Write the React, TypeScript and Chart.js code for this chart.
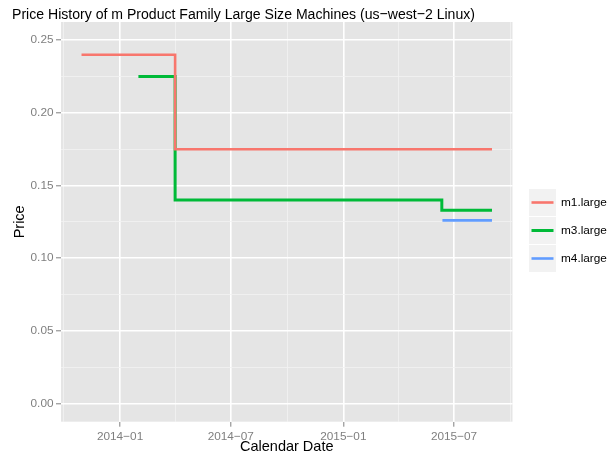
import React, { useEffect, useRef } from 'react';
import { Chart, registerables } from 'chart.js';

Chart.register(...registerables);

const titleText = 'Price History of m Product Family Large Size Machines (us\u2212west\u22122 Linux)';
const xTitle = 'Calendar Date';
const yTitle = 'Price';

const seriesNames = ['m1.large', 'm3.large', 'm4.large'];
const seriesColors = ['#F8766D', '#00BA38', '#619CFF'];

const m1Dates = ['2013-10-30', '2014-04-01', '2015-09-01'];
const m1Prices = [0.24, 0.175, 0.175];
const m3Dates = ['2014-01-31', '2014-04-01', '2015-06-11', '2015-09-01'];
const m3Prices = [0.225, 0.14, 0.133, 0.133];
const m4Dates = ['2015-06-12', '2015-09-01'];
const m4Prices = [0.126, 0.126];

const xTickDates = ['2014-01-01', '2014-07-01', '2015-01-01', '2015-07-01'];
const xTickLabels = ['2014\u221201', '2014\u221207', '2015\u221201', '2015\u221207'];
const xMinorDates = ['2013-10-01', '2014-04-01', '2014-10-01', '2015-04-01', '2015-10-01'];
const yTicks = [0, 0.05, 0.1, 0.15, 0.2, 0.25];
const yTickLabels = ['0.00', '0.05', '0.10', '0.15', '0.20', '0.25'];
const yMinor = [0.025, 0.075, 0.125, 0.175, 0.225];

const FONT = '"Liberation Sans", Arial, Helvetica, sans-serif';

function toDay(s: string): number {
  const [y, m, d] = s.split('-').map(Number);
  return (Date.UTC(y, m - 1, d) - Date.UTC(2014, 0, 1)) / 86400000;
}

const xMajorVals = xTickDates.map(toDay);
const xMinorVals = xMinorDates.map(toDay);

export default function App() {
  const ref = useRef<HTMLCanvasElement | null>(null);

  useEffect(() => {
    document.body.style.margin = '0';
    const canvas = ref.current;
    if (!canvas) return;

    const allDates = [...m1Dates, ...m3Dates, ...m4Dates].map(toDay);
    const dMin = Math.min(...allDates);
    const dMax = Math.max(...allDates);
    const ex = (dMax - dMin) * 0.05;
    const yMinV = 0;
    const yMaxV = 0.25;
    const ey = (yMaxV - yMinV) * 0.05;

    const mk = (dates: string[], prices: number[]) =>
      dates.map((d, i) => ({ x: toDay(d), y: prices[i] }));

    const datasets = [
      { label: seriesNames[0], data: mk(m1Dates, m1Prices), borderColor: seriesColors[0], borderWidth: 2.6 },
      { label: seriesNames[1], data: mk(m3Dates, m3Prices), borderColor: seriesColors[1], borderWidth: 3 },
      { label: seriesNames[2], data: mk(m4Dates, m4Prices), borderColor: seriesColors[2], borderWidth: 2.6 },
    ].map((d) => ({
      ...d,
      stepped: 'before' as const,
      pointRadius: 0,
      fill: false,
      tension: 0,
      borderCapStyle: 'butt' as const,
      borderJoinStyle: 'miter' as const,
    }));

    const decor = {
      id: 'decor',
      beforeDraw(chart: any) {
        const { ctx, chartArea } = chart;
        ctx.save();
        ctx.fillStyle = '#FFFFFF';
        ctx.fillRect(0, 0, chart.width, chart.height);
        ctx.fillStyle = '#E5E5E5';
        ctx.fillRect(chartArea.left, chartArea.top, chartArea.right - chartArea.left, chartArea.bottom - chartArea.top);
        ctx.restore();
      },
      afterDraw(chart: any) {
        const { ctx, chartArea } = chart;
        ctx.save();
        // title
        ctx.fillStyle = '#000000';
        ctx.font = `15.5px ${FONT}`;
        ctx.textAlign = 'left';
        ctx.textBaseline = 'alphabetic';
        const tw = ctx.measureText(titleText).width;
        const sx = 463 / tw;
        ctx.save();
        ctx.translate(12, 18.5);
        ctx.scale(sx, 1);
        ctx.fillText(titleText, 0, 0);
        ctx.restore();
        // axis titles
        ctx.font = `14.5px ${FONT}`;
        ctx.textAlign = 'center';
        ctx.textBaseline = 'middle';
        ctx.fillText(xTitle, (chartArea.left + chartArea.right) / 2, 447);
        ctx.save();
        ctx.translate(20, (chartArea.top + chartArea.bottom) / 2);
        ctx.rotate(-Math.PI / 2);
        ctx.fillText(yTitle, 0, 0);
        ctx.restore();
        // legend
        const kx = 529;
        const ky = 189;
        const ks = 27;
        const gap = 1;
        ctx.font = `11.8px ${FONT}`;
        ctx.textAlign = 'left';
        ctx.textBaseline = 'middle';
        seriesNames.forEach((name, i) => {
          const y0 = ky + i * (ks + gap);
          ctx.fillStyle = '#F2F2F2';
          ctx.fillRect(kx, y0, ks, ks);
          ctx.strokeStyle = seriesColors[i];
          ctx.lineWidth = i === 1 ? 3 : 2.6;
          ctx.lineCap = 'butt';
          ctx.beginPath();
          ctx.moveTo(kx + 2.5, y0 + ks / 2);
          ctx.lineTo(kx + ks - 2.5, y0 + ks / 2);
          ctx.stroke();
          ctx.fillStyle = '#000000';
          ctx.fillText(name, 561, y0 + ks / 2);
        });
        ctx.restore();
      },
    };

    const gridColor = (isMajor: boolean) => (isMajor ? '#FFFFFF' : '#F2F2F2');

    const chart = new Chart(canvas, {
      type: 'line',
      data: { datasets },
      options: {
        animation: false,
        responsive: false,
        maintainAspectRatio: false,
        layout: { padding: { left: 0, right: 102.5, top: 22, bottom: 0 } },
        plugins: {
          legend: { display: false },
          title: { display: false },
          tooltip: { enabled: false },
        },
        scales: {
          x: {
            type: 'linear',
            min: dMin - ex,
            max: dMax + ex,
            afterFit(scale: any) {
              scale.height = 34.3;
            },
            afterBuildTicks(scale: any) {
              const vals = [...xMinorVals, ...xMajorVals].sort((a, b) => a - b);
              scale.ticks = vals.map((v) => ({ value: v }));
            },
            ticks: {
              autoSkip: false,
              maxRotation: 0,
              minRotation: 0,
              padding: 3,
              color: '#7F7F7F',
              font: { family: FONT, size: 11.8 },
              callback: (v: any) => {
                const i = xMajorVals.indexOf(Number(v));
                return i >= 0 ? xTickLabels[i] : '';
              },
            },
            grid: {
              color: (c: any) => gridColor(xMajorVals.includes(c.tick?.value)),
              lineWidth: (c: any) => (xMajorVals.includes(c.tick?.value) ? 1.6 : 0.8),
              tickColor: (c: any) => (xMajorVals.includes(c.tick?.value) ? '#7F7F7F' : 'rgba(0,0,0,0)'),
              tickLength: 5,
              tickWidth: 1,
            },
            border: { display: false },
          },
          y: {
            type: 'linear',
            min: yMinV - ey,
            max: yMaxV + ey,
            afterFit(scale: any) {
              scale.width = 61;
            },
            afterBuildTicks(scale: any) {
              const vals = [...yMinor, ...yTicks].sort((a, b) => a - b);
              scale.ticks = vals.map((v) => ({ value: v }));
            },
            ticks: {
              autoSkip: false,
              padding: 2.5,
              color: '#7F7F7F',
              font: { family: FONT, size: 11.8 },
              callback: (v: any) => {
                const i = yTicks.findIndex((t) => Math.abs(t - Number(v)) < 1e-9);
                return i >= 0 ? yTickLabels[i] : '';
              },
            },
            grid: {
              color: (c: any) => gridColor(yTicks.some((t) => Math.abs(t - c.tick?.value) < 1e-9)),
              lineWidth: (c: any) => (yTicks.some((t) => Math.abs(t - c.tick?.value) < 1e-9) ? 1.6 : 0.8),
              tickColor: (c: any) =>
                yTicks.some((t) => Math.abs(t - c.tick?.value) < 1e-9) ? '#7F7F7F' : 'rgba(0,0,0,0)',
              tickLength: 5,
              tickWidth: 1,
            },
            border: { display: false },
          },
        },
      },
      plugins: [decor],
    });

    return () => chart.destroy();
  }, []);

  return (
    <div style={{ width: 615, height: 456, position: 'relative' }}>
      <canvas ref={ref} width={615} height={456} style={{ display: 'block', width: 615, height: 456 }} />
    </div>
  );
}
